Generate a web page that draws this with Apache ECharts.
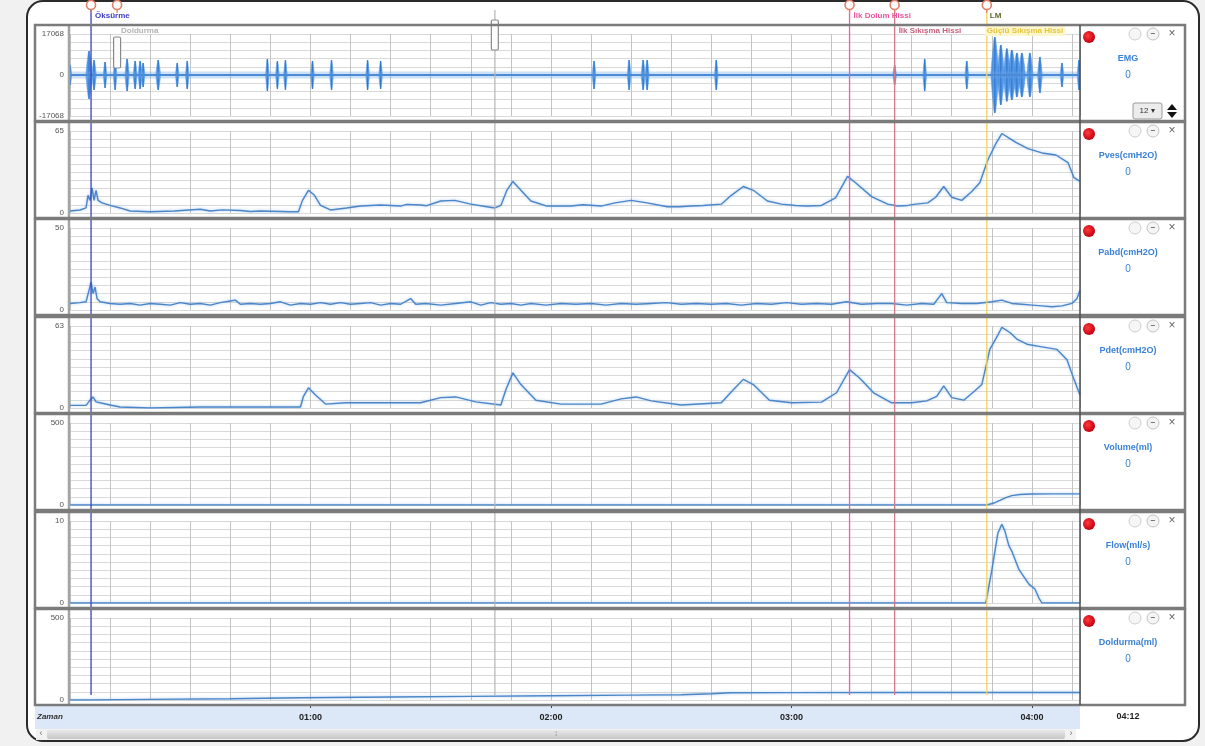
<!DOCTYPE html>
<html>
<head>
<meta charset="utf-8">
<title>Ürodinami kaydı</title>
<script src="https://cdn.jsdelivr.net/npm/echarts@6/dist/echarts.min.js"></script>
<style>
  html, body { margin: 0; padding: 0; background: #f1f1f1; }
  #c { width: 1205px; height: 746px; }
</style>
</head>
<body>
<div id="c"></div>
<script>
// ---- recording data (time in seconds) ----
const timeMax = 252;
const currentTimeLabel = '04:12';

const channelNames = ['EMG', 'Pves(cmH2O)', 'Pabd(cmH2O)', 'Pdet(cmH2O)', 'Volume(ml)', 'Flow(ml/s)', 'Doldurma(ml)'];
const channelMin = [-17068, 0, 0, 0, 0, 0, 0];
const channelMax = [17068, 65, 50, 63, 500, 10, 500];
const channelReadout = ['0', '0', '0', '0', '0', '0', '0'];

// EMG bursts: [time, amplitude, half width (s)]
const emgBursts = [
  [0, 4200, 0.45], [4.75, 10000, 0.8], [6, 6200, 0.55], [8.75, 5400, 0.45], [11.25, 6200, 0.45],
  [14.25, 6700, 0.55], [16.25, 5800, 0.5], [17.5, 5800, 0.5], [18.25, 5000, 0.45], [22, 6200, 0.6],
  [26.75, 5000, 0.45], [29.25, 5800, 0.45], [49.25, 6700, 0.45], [51.75, 5800, 0.45], [53.75, 6200, 0.45],
  [60.5, 5800, 0.45], [65.25, 6200, 0.45], [74.25, 6200, 0.45], [77.5, 5800, 0.45], [130.75, 5800, 0.45],
  [139.5, 6200, 0.45], [143, 6200, 0.5], [144, 6200, 0.5], [161.25, 6200, 0.45], [205.75, 4200, 0.45],
  [213.25, 6700, 0.45], [223.75, 5800, 0.45], [230.75, 15800, 1.0], [232.25, 12500, 0.9], [233.75, 11000, 0.9],
  [235, 10400, 1.0], [236.25, 9200, 0.9], [237.5, 9200, 0.9], [239.5, 9200, 0.8], [242, 7500, 0.6],
  [247.5, 5000, 0.45], [251.75, 6200, 0.45]
];
const emgBaseline = [[0, 0], [timeMax, 0]];

const pves = [
  [0, 1.6], [2.5, 2.4], [4, 4], [4.5, 14], [5, 10], [5.5, 20], [6, 10], [6.5, 18], [7, 10], [8, 8],
  [10, 6], [12.5, 4], [15, 1.6], [20, 1], [26, 1.6], [32.5, 3], [35, 1.6], [38, 2.5], [42.5, 2], [45, 1.2],
  [47.5, 1.6], [55, 1], [57, 1], [58, 10], [59.5, 18], [61, 14], [62.5, 6], [65, 2.4], [69, 4], [72.5, 5.5],
  [77.5, 6.3], [82.5, 5.5], [84, 6.8], [87.5, 6.3], [89, 5.8], [92.5, 9.5], [96, 10], [100, 7], [104, 5], [106, 4],
  [107.5, 6], [109, 18], [110.5, 25], [112.5, 18], [115, 9.5], [119, 5.5], [125, 5.5], [128, 6.5], [132.5, 5.5], [136, 8],
  [140, 10], [144, 8], [149, 5], [152, 5], [155, 5.5], [158, 6], [162.5, 7], [165, 14], [168, 21], [170.5, 18],
  [174, 9.5], [177.5, 7], [181, 6], [184, 5.5], [187.5, 6], [191, 12], [194, 29], [196, 24], [200, 13], [204, 7],
  [206.5, 5.5], [209, 6], [211, 7], [214, 8], [216, 12.5], [218, 21], [220, 12.5], [222.5, 10], [225, 17], [227, 24],
  [229, 42], [231, 55], [232.5, 63], [234.5, 59], [236, 56], [239, 51], [242.5, 47.6], [246, 46], [249, 40], [250.5, 28],
  [252, 25]
];

const pabd = [
  [0, 4], [2.5, 4.5], [4, 5], [4.75, 12], [5.25, 17], [5.75, 10], [6.25, 14], [6.75, 7], [7.5, 5], [10, 4],
  [12.5, 3.5], [15, 4], [17.5, 3], [20, 4], [22.5, 3.5], [25, 3], [27.5, 4.5], [30, 3.5], [32.5, 4], [35, 3],
  [37.5, 4.5], [40, 5.5], [41.25, 6], [42.5, 3.5], [45, 4], [47.5, 3.5], [50, 4], [52.5, 5], [55, 3], [57.5, 4],
  [60, 3.5], [62.5, 4.5], [65, 3.5], [67.5, 4.5], [70, 3.5], [72.5, 4], [75, 4.5], [77.5, 3], [80, 4], [82.5, 3.5],
  [85, 7], [86.25, 3.5], [88.75, 4], [92.5, 3], [96.25, 4], [100, 5], [102.5, 3], [105, 4.5], [107.5, 3.5], [110, 4],
  [112.5, 3], [115, 4], [118.75, 3], [122.5, 4], [126.25, 3.5], [130, 4], [133.75, 3], [137.5, 4], [141.25, 3.5], [145, 4],
  [148.75, 4.5], [152.5, 3.5], [156.25, 4], [160, 3.5], [163.75, 4], [167.5, 3], [171.25, 4], [175, 3.5], [178.75, 4.5], [182.5, 3.5],
  [186.25, 4], [190, 3.5], [193.75, 5], [197.5, 3.5], [201.25, 4], [205, 4], [208.75, 3], [212.5, 4], [215.5, 3.5], [217.5, 10],
  [218.75, 4.5], [222.5, 4], [226.25, 4], [230, 5], [232.5, 6], [235, 4], [237.5, 3.5], [240, 3], [242.5, 2.5], [245, 2],
  [247.5, 2.5], [250, 4], [251.25, 7], [252, 12]
];

const pdet = [
  [0, 2], [4, 2], [5, 6], [5.75, 8.5], [6.5, 4.7], [7.5, 4], [10, 2.3], [12.5, 0.8], [20, 0], [32.5, 0.8],
  [57.5, 0.8], [58.25, 9], [59.5, 15.5], [61.25, 10], [63.75, 3], [68.75, 4], [77.5, 4], [87.5, 4], [92.5, 8], [96.25, 8.5],
  [101.25, 4.7], [107.5, 2.3], [108.75, 14], [110.5, 27], [112.5, 18], [116.25, 6], [122.5, 3], [132.5, 3], [137.5, 7], [141.25, 8.5],
  [145, 5.5], [152.5, 2.3], [162.5, 4], [165.5, 14], [168, 22], [170.5, 18], [174.5, 6], [180, 4], [187.5, 4.5], [191.25, 11.7],
  [194.5, 29.5], [197, 23], [200.5, 11.7], [205, 4], [210, 4], [213.75, 5.5], [216.25, 9], [218, 17], [220, 8], [223, 6],
  [225.5, 12.5], [227.5, 18], [229.5, 45], [231.5, 56], [232.5, 62], [234.5, 58], [236.25, 53], [238.75, 49], [242.5, 47], [246.25, 45],
  [248.75, 37], [250.5, 22], [252, 10]
];

const volume = [[0, 0], [228.75, 0], [230.5, 12], [232, 28], [233.5, 45], [235, 57], [237, 64], [240, 67], [245, 68], [252, 68]];

const flow = [
  [0, 0], [228.5, 0], [230, 4], [231.5, 8.5], [232.5, 9.6], [233.25, 8.8], [234.25, 7], [235, 6.3],
  [236.75, 4.1], [239.25, 2.3], [240.75, 1.7], [241.75, 0.6], [242.5, 0], [252, 0]
];

const doldurma = [
  [0, 0], [5, 0], [20, 4], [40, 8], [57.5, 14], [80, 18], [100, 22], [120, 26], [140, 30],
  [152.5, 32], [160, 38], [165, 44], [180, 45], [210, 46], [252, 46]
];

// event markers
const eventNames  = ['Öksürme', 'Doldurma', '', 'İlk Dolum Hissi', 'İlk Sıkışma Hissi', 'Güçlü Sıkışma Hissi'];
const eventTags   = ['', '', '', '', '', 'LM'];
const eventTimes  = [5.25, 11.75, 106, 194.5, 205.75, 228.75];
const eventColors = ['#3c40c4', '#b0b0b0', '#b4b4b4', '#ee5fa8', '#d27a8c', '#f2d35c'];
const eventTextColors = ['#3c40c4', '#b3b3b3', '#b3b3b3', '#e8559e', '#c9607a', '#e6c53c'];

// ---- layout ----
const FONT = '"Liberation Sans", Arial, sans-serif';
const panelTops = [25, 122, 219, 317, 414, 512, 609];
const PANEL_H = 96;
const PLOT_L = 70, PLOT_R = 1080, PLOT_W = PLOT_R - PLOT_L;
const traceColor = '#4a86c8';

function fmtTime(v) {
  const m = Math.floor(v / 60), s = Math.round(v % 60);
  return String(m).padStart(2, '0') + ':' + String(s).padStart(2, '0');
}

const grids = panelTops.map(t => ({ left: PLOT_L, width: PLOT_W, top: t + 9, height: 82 }));
grids.push({ left: PLOT_L, width: PLOT_W, top: 0, height: 746 });

const xAxes = panelTops.map((t, i) => ({
  type: 'value', gridIndex: i, min: 0, max: timeMax, interval: 10,
  axisLine: { show: false }, axisTick: { show: false }, axisLabel: { show: false },
  splitLine: { show: true, lineStyle: { color: '#c4c4c4', width: 1 } }
}));
xAxes.push({
  type: 'value', gridIndex: 6, position: 'bottom', offset: 5, min: 0, max: timeMax, interval: 60,
  axisLine: { show: false },
  axisTick: { show: true, length: 3, lineStyle: { color: '#444' } },
  axisLabel: { margin: 8, fontSize: 9, fontWeight: 'bold', color: '#222', fontFamily: FONT,
    showMinLabel: false, showMaxLabel: false, formatter: fmtTime },
  splitLine: { show: false }
});
xAxes.push({ type: 'value', gridIndex: 7, min: 0, max: timeMax, show: false });

const yAxes = channelMax.map((mx, i) => {
  const mn = channelMin[i];
  const span = mx - mn;
  return {
    type: 'value', gridIndex: i, min: mn, max: mx, interval: span / 10,
    axisLine: { show: false }, axisTick: { show: false },
    splitLine: { show: true, lineStyle: { color: '#d9d9d9', width: 1 } },
    axisLabel: {
      fontSize: 8, color: '#555', margin: 6, fontFamily: FONT,
      formatter: v => {
        if (Math.abs(v - mx) < span * 0.001) return String(mx);
        if (Math.abs(v - mn) < span * 0.001) return String(mn);
        if (Math.abs(v) < span * 0.001) return '0';
        return '';
      }
    }
  };
});
yAxes.push({ type: 'value', gridIndex: 7, min: 0, max: 1, show: false });

// EMG burst as a filled spindle around the baseline
function renderBurst(params, api) {
  const t = api.value(0), a = api.value(1), w = api.value(2);
  const shape = [[-1, 0], [-0.6, 0.55], [-0.2, 0.95], [0, 1], [0.2, 0.95], [0.6, 0.55], [1, 0],
                 [0.6, -0.55], [0.2, -0.95], [0, -1], [-0.2, -0.95], [-0.6, -0.55]];
  const pts = shape.map(p => api.coord([t + p[0] * w, p[1] * a]));
  const top = api.coord([t, a]), bot = api.coord([t, -a]);
  return {
    type: 'group',
    children: [
      { type: 'polygon', shape: { points: pts }, style: { fill: 'rgba(60,135,225,0.85)', stroke: 'rgba(90,160,235,0.6)', lineWidth: 1 } },
      { type: 'line', shape: { x1: top[0], y1: top[1], x2: bot[0], y2: bot[1] }, style: { stroke: '#2f78d0', lineWidth: 1.2 } }
    ]
  };
}

// event lines, pins, labels and drag handles
const handleSpan = { 1: [37, 68], 2: [20, 50] };
function renderEvent(params, api) {
  const i = api.value(1);
  const x = api.coord([api.value(0), 0])[0];
  const ch = [];
  const hasLine = i !== 1;
  const hasPin = i !== 2;
  if (hasLine) {
    ch.push({ type: 'line', shape: { x1: x, y1: 10, x2: x, y2: 695 },
      style: { stroke: eventColors[i], lineWidth: i === 2 ? 1.5 : 1.3, opacity: i === 2 ? 0.8 : 1 } });
  }
  if (hasPin) {
    ch.push({ type: 'line', shape: { x1: x, y1: 9, x2: x, y2: 13 }, style: { stroke: '#e27f68', lineWidth: 1.2 } });
    ch.push({ type: 'circle', shape: { cx: x, cy: 5, r: 4.5 }, style: { fill: '#fff', stroke: '#e27f68', lineWidth: 1.6 } });
  }
  if (handleSpan[i]) {
    const s = handleSpan[i];
    ch.push({ type: 'rect', shape: { x: x - 3.5, y: s[0], width: 7, height: s[1] - s[0], r: 1.5 },
      style: { fill: '#fbfbfb', stroke: '#8a8a8a', lineWidth: 1.2 } });
  }
  const name = eventNames[i];
  if (name) {
    const row2 = (i === 1 || i === 4 || i === 5);
    const tx = i === 5 ? x - 2 : x + 4;
    ch.push({ type: 'text', style: {
      text: name, x: tx, y: row2 ? 31 : 16, fill: eventTextColors[i],
      font: 'bold 8px ' + FONT, align: 'left', verticalAlign: 'middle',
      backgroundColor: i === 5 ? 'rgba(255,246,200,0.9)' : null, padding: i === 5 ? [1, 2] : 0
    } });
  }
  if (eventTags[i]) {
    ch.push({ type: 'text', style: { text: eventTags[i], x: x + 3, y: 16, fill: '#5b6b2a',
      font: 'bold 8px ' + FONT, align: 'left', verticalAlign: 'middle' } });
  }
  return { type: 'group', children: ch };
}

const series = [];
series.push({ type: 'line', xAxisIndex: 0, yAxisIndex: 0, data: emgBaseline, symbol: 'none', silent: true,
  lineStyle: { color: 'rgba(110,165,230,0.35)', width: 7 } });
series.push({ type: 'line', xAxisIndex: 0, yAxisIndex: 0, data: emgBaseline, symbol: 'none', silent: true,
  lineStyle: { color: '#4a8ad6', width: 2 } });
series.push({ type: 'custom', xAxisIndex: 0, yAxisIndex: 0, data: emgBursts, renderItem: renderBurst, clip: true });

[pves, pabd, pdet, volume, flow, doldurma].forEach((d, k) => {
  series.push({ type: 'line', xAxisIndex: k + 1, yAxisIndex: k + 1, data: d, symbol: 'none', silent: true,
    lineStyle: { color: traceColor, width: 1.4, shadowColor: 'rgba(90,150,225,0.5)', shadowBlur: 3 } });
});

series.push({ type: 'custom', xAxisIndex: 8, yAxisIndex: 7, data: eventTimes.map((t, i) => [t, i]),
  renderItem: renderEvent, clip: false, z: 10, silent: true });

// ---- frame, panel borders, side readouts ----
const graphics = [];
graphics.push({ type: 'rect', z: -10, shape: { x: 27, y: 1, width: 1172, height: 740, r: 16 },
  style: { fill: '#fff', stroke: '#2b2b2b', lineWidth: 2 } });

panelTops.forEach((top, i) => {
  graphics.push({ type: 'rect', z: 50, shape: { x: 35, y: top, width: 1150, height: PANEL_H },
    style: { fill: null, stroke: '#7b7b7b', lineWidth: 2.5 } });
  graphics.push({ type: 'line', z: 49, shape: { x1: 69, y1: top, x2: 69, y2: top + PANEL_H },
    style: { stroke: '#a3a3a3', lineWidth: 2.5 } });
  // readout box
  graphics.push({ type: 'circle', z: 51, shape: { cx: 1089, cy: top + 12, r: 6 },
    style: { fill: { type: 'radial', x: 0.4, y: 0.4, r: 0.6,
      colorStops: [{ offset: 0, color: '#ff3b3b' }, { offset: 1, color: '#c20012' }] } } });
  graphics.push({ type: 'circle', z: 51, shape: { cx: 1135, cy: top + 9, r: 6 },
    style: { fill: '#f6f6f6', stroke: '#cfcfcf', lineWidth: 1 } });
  graphics.push({ type: 'circle', z: 51, shape: { cx: 1153, cy: top + 9, r: 6 },
    style: { fill: '#f4f4f4', stroke: '#c4c4c4', lineWidth: 1 } });
  graphics.push({ type: 'text', z: 52, style: { text: '−', x: 1153, y: top + 9, fill: '#666',
    font: 'bold 8px ' + FONT, align: 'center', verticalAlign: 'middle' } });
  graphics.push({ type: 'text', z: 52, style: { text: '×', x: 1172, y: top + 9, fill: '#666',
    font: '12px ' + FONT, align: 'center', verticalAlign: 'middle' } });
  graphics.push({ type: 'text', z: 52, style: { text: channelNames[i], x: 1128, y: top + 34, fill: '#3b82d6',
    font: 'bold 9px ' + FONT, align: 'center', verticalAlign: 'middle' } });
  graphics.push({ type: 'text', z: 52, style: { text: channelReadout[i], x: 1128, y: top + 50, fill: '#3b82d6',
    font: '10px ' + FONT, align: 'center', verticalAlign: 'middle' } });
});
graphics.push({ type: 'line', z: 51, shape: { x1: PLOT_R, y1: 25, x2: PLOT_R, y2: 705 },
  style: { stroke: '#4d4d4d', lineWidth: 1.5 } });

// EMG gain selector
graphics.push({ type: 'rect', z: 51, shape: { x: 1133, y: 103, width: 29, height: 16, r: 2 },
  style: { fill: '#ececec', stroke: '#9a9a9a', lineWidth: 1 } });
graphics.push({ type: 'text', z: 52, style: { text: '12 ▾', x: 1147, y: 111, fill: '#333',
  font: '8px ' + FONT, align: 'center', verticalAlign: 'middle' } });
graphics.push({ type: 'polygon', z: 52, shape: { points: [[1167, 110], [1172, 104], [1177, 110]] }, style: { fill: '#111' } });
graphics.push({ type: 'polygon', z: 52, shape: { points: [[1167, 112], [1172, 118], [1177, 112]] }, style: { fill: '#111' } });

// time band
graphics.push({ type: 'rect', z: -5, shape: { x: 35, y: 706, width: 1045, height: 23 },
  style: { fill: '#dce8f7' } });
graphics.push({ type: 'text', z: 52, style: { text: 'Zaman', x: 37, y: 717, fill: '#333',
  font: 'italic bold 8px ' + FONT, align: 'left', verticalAlign: 'middle' } });
graphics.push({ type: 'text', z: 52, style: { text: currentTimeLabel, x: 1128, y: 717, fill: '#222',
  font: 'bold 9px ' + FONT, align: 'center', verticalAlign: 'middle' } });

// scrollbar
graphics.push({ type: 'rect', z: 5, shape: { x: 36, y: 729, width: 1040, height: 11 },
  style: { fill: '#f2f2f2' } });
graphics.push({ type: 'rect', z: 6, shape: { x: 47, y: 730, width: 1018, height: 9, r: 2 },
  style: { fill: { type: 'linear', x: 0, y: 0, x2: 0, y2: 1,
    colorStops: [{ offset: 0, color: '#e9e9e9' }, { offset: 1, color: '#c6c6c6' }] } } });
graphics.push({ type: 'text', z: 7, style: { text: '‹', x: 41, y: 734, fill: '#777',
  font: '9px ' + FONT, align: 'center', verticalAlign: 'middle' } });
graphics.push({ type: 'text', z: 7, style: { text: '›', x: 1071, y: 734, fill: '#777',
  font: '9px ' + FONT, align: 'center', verticalAlign: 'middle' } });
graphics.push({ type: 'text', z: 7, style: { text: '⁞', x: 556, y: 734, fill: '#888',
  font: '8px ' + FONT, align: 'center', verticalAlign: 'middle' } });

const chart = echarts.init(document.getElementById('c'));
chart.setOption({
  animation: false,
  backgroundColor: 'transparent',
  textStyle: { fontFamily: FONT },
  grid: grids,
  xAxis: xAxes,
  yAxis: yAxes,
  series: series,
  graphic: { elements: graphics }
});
</script>
</body>
</html>
